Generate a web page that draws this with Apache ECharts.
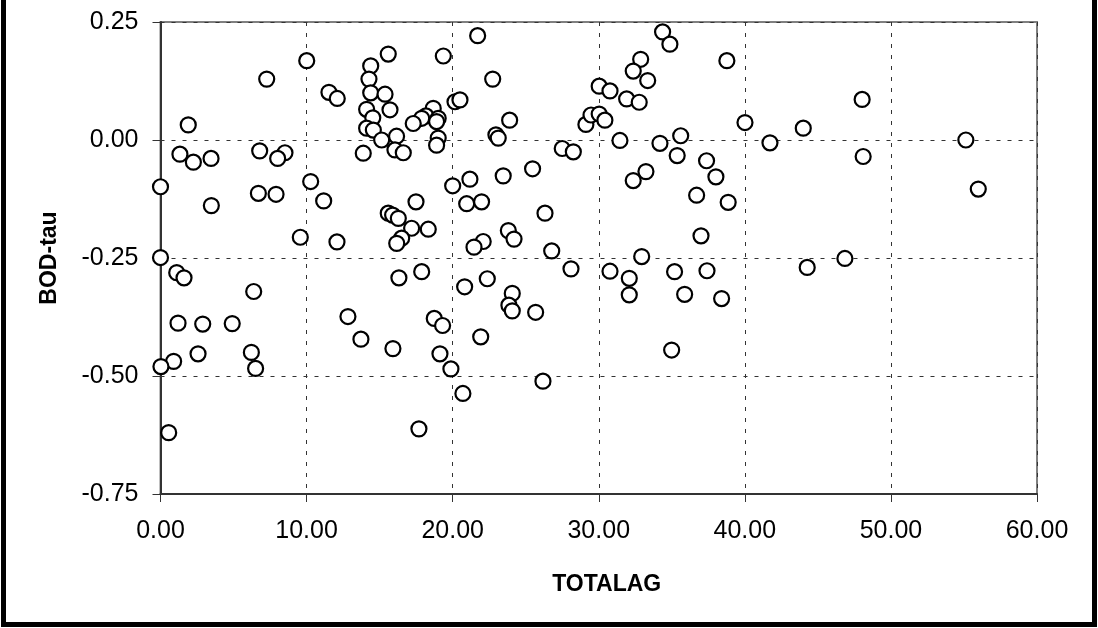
<!DOCTYPE html>
<html>
<head>
<meta charset="utf-8">
<script src="https://cdn.jsdelivr.net/npm/echarts@6/dist/echarts.min.js"></script>
<style>
  html, body { margin: 0; padding: 0; background: #fff; }
  #chart { width: 1098px; height: 628px; }
</style>
</head>
<body>
<div id="chart"></div>
<script>
// TOTALAG (x) and BOD-tau (y) for each observation
const totalag = [
  10.01, 7.27, 11.53, 12.10, 14.39, 14.27, 14.39, 14.11, 14.53, 14.11,
  14.57, 1.90, 1.33, 2.25, 3.46, 6.79, 8.52, 8.02, 13.88, 0.00,
  6.70, 7.91, 10.28, 11.17, 3.48, 9.57, 12.08, 0.00, 1.11, 1.61,
  6.38, 1.20, 2.89, 4.91, 12.83, 13.72, 2.57, 0.90, 0.03, 6.22,
  6.51, 0.56, 21.71, 15.59, 19.36, 22.74, 15.37, 15.71, 20.16, 20.50,
  23.90, 18.67, 18.17, 17.88, 17.30, 19.01, 18.90, 16.16, 15.14, 16.05,
  16.62, 19.01, 18.90, 22.96, 23.12, 27.50, 28.26, 25.47, 23.46, 21.18,
  20.00, 20.96, 21.98, 17.49, 15.59, 15.89, 16.28, 26.32, 17.19, 18.33,
  16.51, 16.17, 22.09, 21.46, 23.81, 24.20, 26.78, 16.32, 17.88, 20.82,
  22.37, 28.10, 24.08, 23.85, 24.08, 25.68, 18.74, 19.31, 21.92, 15.91,
  19.13, 19.88, 26.18, 20.70, 17.69, 34.37, 34.87, 38.77, 32.87, 32.36,
  33.35, 30.03, 30.77, 31.91, 32.77, 40.01, 44.00, 29.12, 29.47, 30.03,
  30.42, 31.45, 34.19, 35.61, 35.37, 41.72, 37.38, 38.02, 33.23, 32.36,
  36.70, 38.86, 37.00, 32.94, 30.77, 32.09, 32.09, 35.19, 37.41, 35.88,
  38.41, 34.99, 44.27, 48.03, 48.10, 55.13, 55.98, 46.85
];
const bodTau = [
  0.168, 0.129, 0.101, 0.088, 0.157, 0.129, 0.100, 0.065, 0.047, 0.025,
  0.021, 0.032, -0.030, -0.047, -0.039, -0.023, -0.027, -0.039, -0.028, -0.099,
  -0.113, -0.115, -0.088, -0.129, -0.139, -0.206, -0.216, -0.249, -0.281, -0.292,
  -0.321, -0.388, -0.390, -0.389, -0.374, -0.422, -0.453, -0.469, -0.480, -0.450,
  -0.484, -0.620, 0.221, 0.182, 0.178, 0.129, 0.097, 0.064, 0.081, 0.085,
  0.042, 0.067, 0.051, 0.046, 0.035, 0.046, 0.039, 0.008, 0.000, -0.021,
  -0.027, 0.004, -0.011, 0.011, 0.004, -0.018, -0.025, -0.061, -0.076, -0.083,
  -0.097, -0.135, -0.131, -0.131, -0.155, -0.159, -0.166, -0.155, -0.187, -0.189,
  -0.208, -0.219, -0.215, -0.227, -0.192, -0.210, -0.235, -0.292, -0.279, -0.311,
  -0.294, -0.273, -0.325, -0.350, -0.362, -0.365, -0.378, -0.393, -0.417, -0.442,
  -0.453, -0.485, -0.511, -0.537, -0.612, 0.229, 0.203, 0.168, 0.171, 0.146,
  0.126, 0.114, 0.104, 0.087, 0.080, 0.037, 0.025, 0.033, 0.053, 0.055,
  0.042, -0.001, -0.007, 0.009, -0.033, -0.006, -0.044, -0.078, -0.067, -0.086,
  -0.117, -0.132, -0.203, -0.247, -0.278, -0.293, -0.328, -0.279, -0.277, -0.327,
  -0.336, -0.445, -0.270, 0.086, -0.035, 0.000, -0.104, -0.251
];

// Axis ranges and tick spacing
const xTicks = [0, 10, 20, 30, 40, 50, 60];
const yTicks = [-0.75, -0.50, -0.25, 0.00, 0.25];

const points = totalag.map((x, i) => [x, bodTau[i]]);

const FONT = '"Liberation Sans", Arial, sans-serif';
const gridDash = { color: '#333', width: 1, type: [4, 7] };

const chart = echarts.init(document.getElementById('chart'), null, { renderer: 'canvas' });

chart.setOption({
  backgroundColor: '#fff',
  animation: false,
  textStyle: { fontFamily: FONT },
  grid: {
    left: 160.5, top: 22, right: 61, bottom: 134,
    show: true, borderColor: '#808080', borderWidth: 2, backgroundColor: '#fff'
  },
  xAxis: {
    type: 'value',
    min: xTicks[0], max: xTicks[xTicks.length - 1], interval: 10,
    name: 'TOTALAG',
    nameLocation: 'middle',
    nameGap: 79,
    nameTextStyle: { fontFamily: FONT, fontSize: 23, fontWeight: 'bold', color: '#000', padding: [0, 0, 0, 16] },
    axisLine: { show: true, onZero: false, lineStyle: { color: '#333', width: 2 } },
    axisTick: { show: true, inside: false, length: 8, lineStyle: { color: '#333', width: 1 } },
    axisLabel: {
      margin: 25, fontSize: 25, color: '#000', fontFamily: FONT,
      formatter: v => v.toFixed(2)
    },
    splitLine: { show: true, lineStyle: gridDash }
  },
  yAxis: {
    type: 'value',
    min: yTicks[0], max: yTicks[yTicks.length - 1], interval: 0.25,
    name: 'BOD-tau',
    nameLocation: 'middle',
    nameGap: 99,
    nameTextStyle: { fontFamily: FONT, fontSize: 23, fontWeight: 'bold', color: '#000' },
    axisLine: { show: true, onZero: false, lineStyle: { color: '#333', width: 2 } },
    axisTick: { show: true, inside: false, length: 8, lineStyle: { color: '#333', width: 1 } },
    axisLabel: {
      margin: 22, fontSize: 25, color: '#000', fontFamily: FONT,
      formatter: v => v.toFixed(2)
    },
    splitLine: { show: true, lineStyle: gridDash }
  },
  series: [{
    type: 'scatter',
    data: points,
    symbol: 'circle',
    symbolSize: 15,
    itemStyle: { color: '#fff', borderColor: '#000', borderWidth: 2.2, opacity: 1 },
    emphasis: { disabled: true }
  }],
  graphic: [{
    type: 'rect',
    silent: true,
    z: 100,
    shape: { x: 3.5, y: -20, width: 1091, height: 644.5 },
    style: { fill: null, stroke: '#000', lineWidth: 5 }
  }]
});
</script>
</body>
</html>
